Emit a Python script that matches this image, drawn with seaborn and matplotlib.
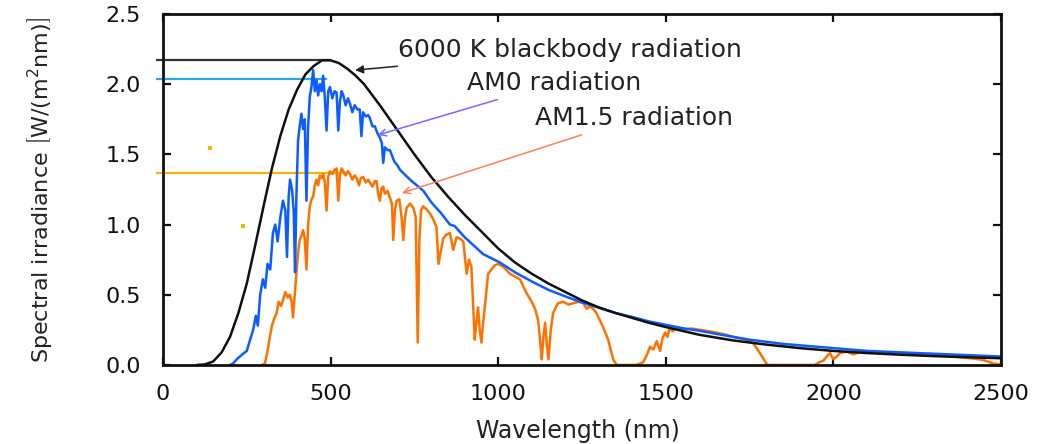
#%% IMPORTS   ~~~~~~~~~~~~~~~~~~~~~~~~~~~~~~~~~~~~~~~~~~~~~~~~~~~~~~~~~~~~~~

import matplotlib
matplotlib.use("Agg")
import matplotlib.pyplot as plt
import seaborn as sns

#%% DATA   ~~~~~~~~~~~~~~~~~~~~~~~~~~~~~~~~~~~~~~~~~~~~~~~~~~~~~~~~~~~~~~~~~

# 6000 K blackbody (scaled)
bb_wl = [100, 125, 150, 175, 200, 225, 250, 275, 300, 325, 350, 375, 400,
         425, 450, 475, 500, 525, 550, 575, 600, 650, 700, 750, 800, 850,
         900, 950, 1000, 1050, 1100, 1150, 1200, 1250, 1300, 1350, 1400,
         1450, 1500, 1600, 1700, 1800, 1900, 2000, 2100, 2200, 2300, 2400,
         2500]
bb_val = [0.0, 0.004, 0.025, 0.09, 0.20, 0.37, 0.58, 0.85, 1.13, 1.40, 1.63,
          1.82, 1.96, 2.07, 2.13, 2.17, 2.17, 2.15, 2.11, 2.06, 2.0, 1.84,
          1.67, 1.50, 1.34, 1.20, 1.07, 0.95, 0.83, 0.73, 0.65, 0.58, 0.52,
          0.46, 0.41, 0.37, 0.335, 0.30, 0.27, 0.215, 0.175, 0.145, 0.12,
          0.10, 0.085, 0.073, 0.063, 0.055, 0.048]

# AM0 (extraterrestrial) spectrum
am0_wl = [200, 209, 220, 239, 250, 260, 269, 277, 283, 290, 298, 305, 312,
          320, 328, 335, 342, 350, 358, 365, 370, 375, 379, 385, 390, 394,
          398, 403, 408, 413, 418, 423, 428, 433, 438, 443, 448, 453, 458,
          463, 468, 473, 478, 483, 488, 493, 498, 505, 512, 518, 523, 528,
          533, 538, 545, 552, 558, 565, 572, 580, 587, 592, 597, 605, 612,
          617, 625, 632, 640, 647, 653, 657, 662, 670, 677, 690, 700, 707,
          720, 737, 757, 777, 800, 830, 856, 870, 900, 955, 1005, 1050, 1104,
          1150, 1204, 1250, 1304, 1350, 1403, 1450, 1502, 1550, 1602, 1650,
          1701, 1750, 1800, 1850, 1900, 1950, 2000, 2100, 2200, 2300, 2400,
          2500]
am0_val = [0.0, 0.01, 0.04, 0.08, 0.10, 0.18, 0.25, 0.35, 0.28, 0.50, 0.61,
           0.55, 0.72, 0.68, 0.94, 1.00, 0.88, 1.05, 1.17, 1.10, 0.77, 1.20,
           1.32, 1.25, 1.10, 0.66, 1.20, 1.60, 1.70, 1.79, 1.68, 1.75, 1.17,
           1.70, 1.91, 1.98, 2.10, 1.95, 2.03, 1.92, 2.00, 1.95, 2.06, 1.90,
           1.67, 1.95, 1.98, 1.90, 1.95, 1.94, 1.67, 1.88, 1.95, 1.92, 1.85,
           1.90, 1.86, 1.80, 1.85, 1.82, 1.82, 1.63, 1.80, 1.77, 1.78, 1.76,
           1.70, 1.70, 1.65, 1.62, 1.58, 1.44, 1.55, 1.53, 1.53, 1.45, 1.42,
           1.39, 1.36, 1.32, 1.28, 1.24, 1.16, 1.08, 1.00, 0.99, 0.91, 0.79,
           0.73, 0.66, 0.59, 0.535, 0.485, 0.445, 0.405, 0.37, 0.34, 0.31,
           0.285, 0.262, 0.243, 0.222, 0.20, 0.18, 0.165, 0.15, 0.14, 0.13,
           0.12, 0.10, 0.09, 0.08, 0.07, 0.06]

# AM1.5 (ground level) spectrum
am15_wl = [295, 304, 312, 319, 325, 332, 339, 345, 352, 358, 365, 372, 378,
           384, 388, 393, 398, 403, 408, 413, 418, 423, 428, 433, 438, 443,
           448, 453, 458, 463, 468, 473, 478, 483, 488, 493, 498, 505, 512,
           518, 523, 528, 533, 538, 545, 552, 558, 565, 572, 578, 585, 590,
           597, 605, 612, 617, 625, 632, 637, 642, 647, 652, 657, 662, 670,
           677, 683, 687, 692, 697, 705, 712, 717, 722, 727, 737, 747, 754,
           760, 765, 770, 776, 786, 796, 806, 816, 822, 828, 836, 846, 856,
           866, 876, 886, 896, 906, 913, 920, 930, 935, 940, 945, 950, 955,
           960, 970, 980, 990, 1000, 1015, 1035, 1050, 1065, 1085, 1100, 1110,
           1119, 1126, 1130, 1135, 1140, 1145, 1150, 1157, 1164, 1172, 1179,
           1194, 1210, 1224, 1240, 1254, 1264, 1274, 1283, 1293, 1303, 1313,
           1328, 1343, 1353, 1413, 1433, 1445, 1453, 1463, 1473, 1483, 1490,
           1498, 1505, 1512, 1520, 1532, 1552, 1575, 1602, 1630, 1652, 1680,
           1701, 1720, 1741, 1761, 1781, 1800, 1806, 1945, 1958, 1970, 1980,
           1990, 2000, 2010, 2020, 2040, 2060, 2075, 2089, 2120, 2150, 2199,
           2250, 2298, 2330, 2357, 2398, 2420, 2448, 2465, 2477, 2500]
am15_val = [0.0, 0.01, 0.10, 0.20, 0.28, 0.33, 0.37, 0.45, 0.42, 0.46, 0.52,
            0.48, 0.50, 0.45, 0.34, 0.50, 0.65, 0.80, 0.89, 0.92, 0.96, 0.90,
            0.68, 1.00, 1.13, 1.18, 1.20, 1.28, 1.32, 1.28, 1.35, 1.33, 1.36,
            1.30, 1.10, 1.34, 1.38, 1.36, 1.39, 1.40, 1.17, 1.36, 1.40, 1.38,
            1.35, 1.38, 1.36, 1.32, 1.35, 1.33, 1.28, 1.33, 1.34, 1.30, 1.32,
            1.30, 1.27, 1.31, 1.31, 1.22, 1.17, 1.26, 1.27, 1.22, 1.24, 1.19,
            1.15, 0.89, 1.10, 1.17, 1.18, 1.05, 0.89, 1.05, 1.12, 1.15, 1.12,
            1.05, 0.16, 0.90, 1.10, 1.13, 1.11, 1.08, 1.04, 0.98, 0.72, 0.80,
            0.90, 0.93, 0.94, 0.82, 0.91, 0.90, 0.88, 0.65, 0.75, 0.70, 0.18,
            0.30, 0.41, 0.25, 0.16, 0.30, 0.41, 0.65, 0.68, 0.71, 0.72, 0.70,
            0.65, 0.63, 0.61, 0.51, 0.45, 0.40, 0.32, 0.15, 0.04, 0.20, 0.30,
            0.15, 0.04, 0.25, 0.37, 0.41, 0.44, 0.45, 0.43, 0.44, 0.45, 0.44,
            0.40, 0.42, 0.40, 0.37, 0.32, 0.27, 0.18, 0.04, 0.0, 0.0, 0.02,
            0.08, 0.13, 0.11, 0.17, 0.10, 0.19, 0.23, 0.20, 0.27, 0.24, 0.27,
            0.25, 0.26, 0.25, 0.24, 0.23, 0.215, 0.20, 0.19, 0.18, 0.155,
            0.085, 0.01, 0.0, 0.0, 0.02, 0.03, 0.06, 0.085, 0.04, 0.06, 0.085,
            0.095, 0.075, 0.09, 0.095, 0.09, 0.09, 0.085, 0.078, 0.07, 0.065,
            0.06, 0.05, 0.045, 0.035, 0.02, 0.01, 0.005]

# peak marker lines: level and where each one stops
peak_levels = [2.17, 2.04, 1.37]
peak_ends = [500, 490, 549]

# two stray orange specks in the original
stray_wl = [140, 239]
stray_val = [1.545, 0.99]

# labels: text, text position, arrow tip
label_texts = ["6000 K blackbody radiation", "AM0 radiation", "AM1.5 radiation"]
label_pos = [(701, 2.24), (907, 2.01), (1110, 1.76)]
label_tips = [(573, 2.10), (641, 1.638), (713, 1.225)]

x_ticks = [0, 500, 1000, 1500, 2000, 2500]
y_ticks = [0.0, 0.5, 1.0, 1.5, 2.0, 2.5]

#%% PLOT   ~~~~~~~~~~~~~~~~~~~~~~~~~~~~~~~~~~~~~~~~~~~~~~~~~~~~~~~~~~~~~~~~~

sns.set_style("ticks")
plt.rcParams['font.family'] = ['DejaVu Sans']

BB_COLOR = "#111111"
AM0_COLOR = "#0d5cff"
AM15_COLOR = "#ff7200"
LEVEL_COLORS = ["#333333", "#2aa6e6", "#f7b500"]
ARROW_COLORS = ["#222222", "#6f6cff", "#ff7f66"]


def draw_series(ax, wl, val, color, lw):
    """Draw one spectrum as a plain line."""
    sns.lineplot(x=wl, y=val, ax=ax, color=color, linewidth=lw,
                 estimator=None, sort=False)


fig = plt.figure(figsize=(10.4, 4.44), dpi=100)
ax = fig.add_axes([0.1567, 0.178, 0.8058, 0.7905])

# horizontal peak lines go slightly past the left spine
for lvl, end, col in zip(peak_levels, peak_ends, LEVEL_COLORS):
    ln = ax.hlines(lvl, -20, end, color=col, linewidth=1.6)
    ln.set_clip_on(False)

draw_series(ax, am15_wl, am15_val, AM15_COLOR, 1.8)
draw_series(ax, am0_wl, am0_val, AM0_COLOR, 1.8)
draw_series(ax, bb_wl, bb_val, BB_COLOR, 1.8)

sns.scatterplot(x=stray_wl, y=stray_val, ax=ax, color="#f7b500",
                marker="s", s=6, linewidth=0)

for txt, pos, tip, col in zip(label_texts, label_pos, label_tips, ARROW_COLORS):
    head = "-|>" if col == ARROW_COLORS[0] else "->"
    ax.annotate(txt, xy=tip, xytext=pos, ha="left", va="center",
                fontsize=18, color="#222222",
                arrowprops=dict(arrowstyle=head, color=col, lw=1.1,
                                shrinkA=4, shrinkB=0, mutation_scale=12))

ax.set_xlim(0, 2500)
ax.set_ylim(0, 2.5)
ax.set_xticks(x_ticks)
ax.set_yticks(y_ticks)
ax.set_xticklabels([str(t) for t in x_ticks])
ax.set_yticklabels([f"{t:.1f}" for t in y_ticks])

for side in ["top", "right", "left", "bottom"]:
    ax.spines[side].set_visible(True)
    ax.spines[side].set_linewidth(2)
    ax.spines[side].set_color("#111111")

ax.tick_params(axis="both", direction="in", length=6, width=1.6,
               top=True, right=True, labelsize=16, colors="#111111")
ax.tick_params(axis="y", pad=16)
ax.tick_params(axis="x", pad=14)

ax.set_xlabel("Wavelength (nm)", fontsize=17, color="#222222")
ax.xaxis.set_label_coords(0.495, -0.155)
ax.set_ylabel(r"Spectral irradiance $\left[\mathrm{W}/\left(\mathrm{m}^2\mathrm{nm}\right)\right]$",
              fontsize=16, color="#222222")
ax.yaxis.set_label_coords(-0.13, 0.5)

fig.savefig("out.png", dpi=100)
plt.close(fig)
